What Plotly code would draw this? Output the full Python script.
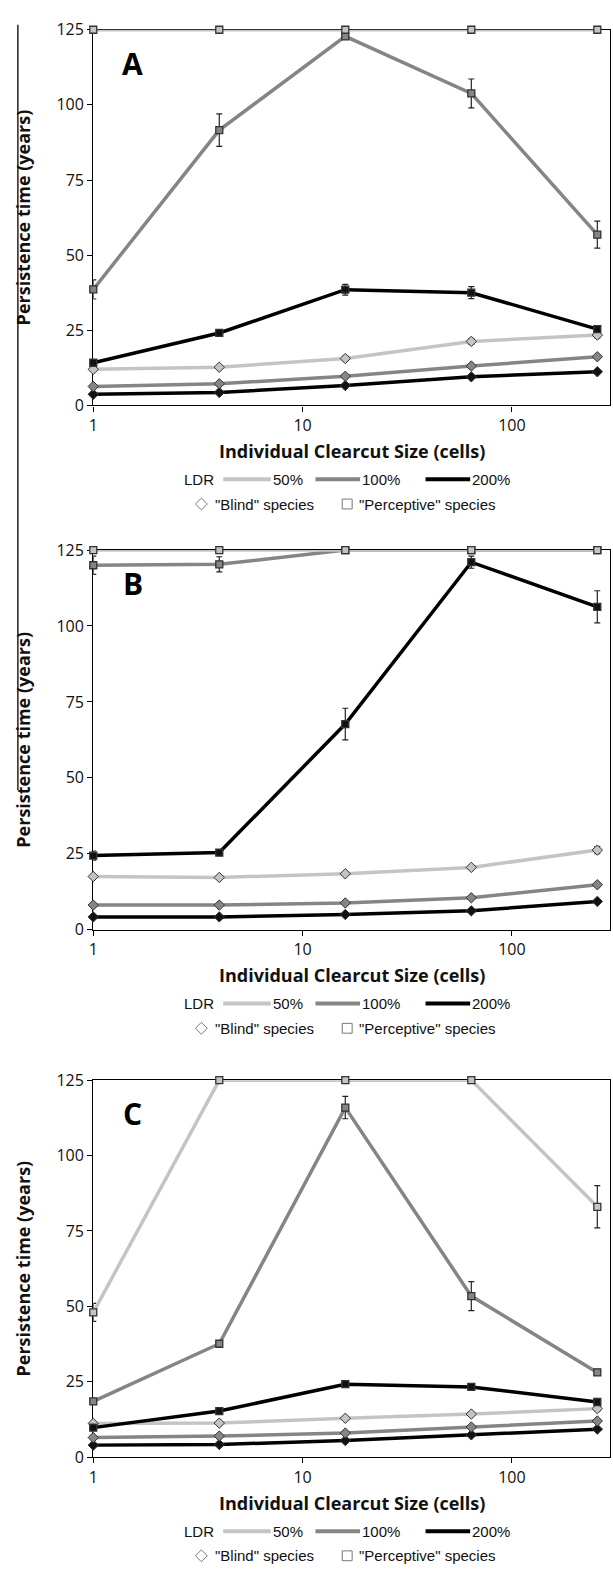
import plotly.graph_objects as go

W, H = 613, 1573

# ---------------- data ----------------
clearcut_sizes = [1, 4, 16, 64, 256]
x_tickvals = [1, 10, 100]
x_ticktext = ["1", "10", "100"]
y_tickvals = [0, 25, 50, 75, 100, 125]
ldr_levels = ["50%", "100%", "200%"]

# Panel A
A_blind_50 = [12.0, 12.7, 15.6, 21.3, 23.4]
A_blind_100 = [6.3, 7.2, 9.7, 13.1, 16.2]
A_blind_200 = [3.7, 4.3, 6.6, 9.5, 11.2]
A_perc_50 = [125, 125, 125, 125, 125]
A_perc_100 = [38.6, 91.6, 122.8, 103.8, 56.8]
A_perc_200 = [14.2, 24.1, 38.5, 37.5, 25.4]
A_blind_50_err = [0.6, 0.6, 0.8, 1.0, 1.0]
A_blind_100_err = [0.5, 0.5, 0.6, 0.6, 0.6]
A_blind_200_err = [0.3, 0.3, 0.4, 0.4, 0.5]
A_perc_50_err = [0, 0, 0, 0, 0]
A_perc_100_err = [3.2, 5.4, 1.0, 4.8, 4.5]
A_perc_200_err = [1.0, 1.0, 1.8, 2.0, 1.0]

# Panel B
B_blind_50 = [17.5, 17.2, 18.4, 20.5, 26.2]
B_blind_100 = [8.1, 8.1, 8.8, 10.5, 14.8]
B_blind_200 = [4.2, 4.2, 5.0, 6.2, 9.3]
B_perc_50 = [125, 125, 125, 125, 125]
B_perc_100 = [120.0, 120.3, 125, 125, 125]
B_perc_200 = [24.4, 25.4, 67.7, 121.0, 106.3]
B_blind_50_err = [0.6, 0.6, 0.6, 0.7, 1.2]
B_blind_100_err = [0.4, 0.4, 0.4, 0.5, 0.6]
B_blind_200_err = [0.3, 0.3, 0.3, 0.3, 0.4]
B_perc_50_err = [0, 0, 0, 0, 0]
B_perc_100_err = [3.0, 2.5, 0, 0, 0]
B_perc_200_err = [1.5, 1.0, 5.2, 2.0, 5.3]

# Panel C
C_blind_50 = [11.2, 11.3, 12.9, 14.3, 16.1]
C_blind_100 = [6.5, 7.0, 8.0, 10.0, 12.0]
C_blind_200 = [4.0, 4.2, 5.5, 7.4, 9.3]
C_perc_50 = [48.0, 125, 125, 125, 83.0]
C_perc_100 = [18.5, 37.6, 115.9, 53.4, 28.1]
C_perc_200 = [9.8, 15.3, 24.2, 23.3, 18.3]
C_blind_50_err = [0.5, 0.5, 0.6, 0.6, 0.7]
C_blind_100_err = [0.4, 0.4, 0.4, 0.5, 0.5]
C_blind_200_err = [0.3, 0.3, 0.3, 0.4, 0.4]
C_perc_50_err = [3.0, 0, 0, 0, 7.0]
C_perc_100_err = [1.0, 1.0, 3.7, 4.8, 1.0]
C_perc_200_err = [0.8, 0.8, 0.8, 0.8, 0.8]

panels = [
    ("A", [A_blind_50, A_blind_100, A_blind_200], [A_blind_50_err, A_blind_100_err, A_blind_200_err],
     [A_perc_50, A_perc_100, A_perc_200], [A_perc_50_err, A_perc_100_err, A_perc_200_err]),
    ("B", [B_blind_50, B_blind_100, B_blind_200], [B_blind_50_err, B_blind_100_err, B_blind_200_err],
     [B_perc_50, B_perc_100, B_perc_200], [B_perc_50_err, B_perc_100_err, B_perc_200_err]),
    ("C", [C_blind_50, C_blind_100, C_blind_200], [C_blind_50_err, C_blind_100_err, C_blind_200_err],
     [C_perc_50, C_perc_100, C_perc_200], [C_perc_50_err, C_perc_100_err, C_perc_200_err]),
]

# ---------------- styling / layout ----------------
line_colors = ["#c4c4c4", "#858585", "#000000"]
marker_fill = ["#c4c4c4", "#858585", "#111111"]
marker_edge = "#333333"
tick_font = dict(family="Open Sans", size=16, color="#111")
title_font = dict(family="Open Sans", size=18, color="#111")
legend_font = dict(family="Liberation Sans, Arial", size=15, color="#111")

# pixel geometry of each panel: (top px of y=125, bottom px of y=0)
panel_px = [(19, 400), (546.7, 931.7), (1084.3, 1466.7)]
x_left_px, x_right_px = 89, 610


def py(p):
    return 1 - p / H


def pxx(p):
    return p / W


def ann(text, x, y, xanchor="center", font=None, **kw):
    d = dict(text=text, x=pxx(x), y=py(y), xref="paper", yref="paper",
             xanchor=xanchor, yanchor="middle", showarrow=False, font=font)
    d.update(kw)
    return d


fig = go.Figure()
shapes = []
annotations = []

for i, (letter, blinds, blind_errs, percs, perc_errs) in enumerate(panels):
    n = "" if i == 0 else str(i + 1)
    xa, ya = "x" + n, "y" + n
    top, bot = panel_px[i]
    for k in [2, 1, 0]:
        fig.add_trace(go.Scatter(
            x=clearcut_sizes, y=blinds[k], xaxis=xa, yaxis=ya, mode="lines+markers",
            line=dict(color=line_colors[k], width=3.5),
            marker=dict(symbol="diamond", size=8, color=marker_fill[k],
                        line=dict(color=marker_edge, width=1)),
            error_y=dict(type="data", array=blind_errs[k], color="#222", thickness=1, width=3),
            cliponaxis=False, showlegend=False))
    for k in [2, 1, 0]:
        fig.add_trace(go.Scatter(
            x=clearcut_sizes, y=percs[k], xaxis=xa, yaxis=ya, mode="lines+markers",
            line=dict(color=line_colors[k], width=3.5),
            marker=dict(symbol="square", size=7, color=marker_fill[k],
                        line=dict(color=marker_edge, width=1.3)),
            error_y=dict(type="data", array=perc_errs[k], color="#222", thickness=1.2, width=3),
            cliponaxis=False, showlegend=False))

    axis_common = dict(showline=True, linecolor="black", linewidth=1.3, mirror=True,
                       ticks="outside", ticklen=5, tickcolor="black", showgrid=False,
                       zeroline=False, tickfont=tick_font, layer="below traces")
    fig.update_layout(**{
        "xaxis" + n: dict(type="log", range=[0, 2.469],
                          domain=[pxx(x_left_px), pxx(x_right_px)],
                          tickvals=x_tickvals, ticktext=x_ticktext, anchor=ya, **axis_common),
        "yaxis" + n: dict(range=[0, 125], domain=[py(bot), py(top)],
                          tickvals=y_tickvals, anchor=xa, **axis_common),
    })

    # panel letter
    annotations.append(ann("<b>%s</b>" % letter, 129, top + 34,
                           font=dict(family="Open Sans", size=30, color="black")))
    # axis titles
    annotations.append(ann("<b>Individual Clearcut Size (cells)</b>",
                           (x_left_px + x_right_px) / 2, bot + 46, font=title_font))
    annotations.append(ann("<b>Persistence time (years)</b>", 18, (top + bot) / 2,
                           font=title_font, textangle=-90))
    # legend row 1
    r1 = bot + 75
    annotations.append(ann("LDR", 178, r1, xanchor="left", font=legend_font))
    seg = [(220, 268), (313, 358), (424, 469)]
    for k, (a, b) in enumerate(seg):
        shapes.append(dict(type="line", xref="paper", yref="paper",
                           x0=pxx(a), x1=pxx(b), y0=py(r1), y1=py(r1),
                           line=dict(color=line_colors[k], width=4)))
        annotations.append(ann(ldr_levels[k], b, r1, xanchor="left", font=legend_font))
    # legend row 2
    r2 = bot + 100
    cx, s = 198, 6
    shapes.append(dict(type="path", xref="paper", yref="paper",
                       path="M %f %f L %f %f L %f %f L %f %f Z" % (
                           pxx(cx - s), py(r2), pxx(cx), py(r2 - s),
                           pxx(cx + s), py(r2), pxx(cx), py(r2 + s)),
                       line=dict(color="#777", width=1), fillcolor="white"))
    annotations.append(ann('"Blind" species', 210, r2, xanchor="left", font=legend_font))
    shapes.append(dict(type="rect", xref="paper", yref="paper",
                       x0=pxx(340), x1=pxx(350), y0=py(r2 - 5), y1=py(r2 + 5),
                       line=dict(color="#777", width=1), fillcolor="white"))
    annotations.append(ann('"Perceptive" species', 355, r2, xanchor="left", font=legend_font))

# outer left frame line
shapes.append(dict(type="line", xref="paper", yref="paper", x0=pxx(13), x1=pxx(13),
                   y0=py(14), y1=py(790), line=dict(color="black", width=1.3)))

fig.update_layout(width=W, height=H, margin=dict(l=0, r=0, t=0, b=0),
                  paper_bgcolor="white", plot_bgcolor="white",
                  shapes=shapes, annotations=annotations, showlegend=False)

fig.write_html("out.html")
